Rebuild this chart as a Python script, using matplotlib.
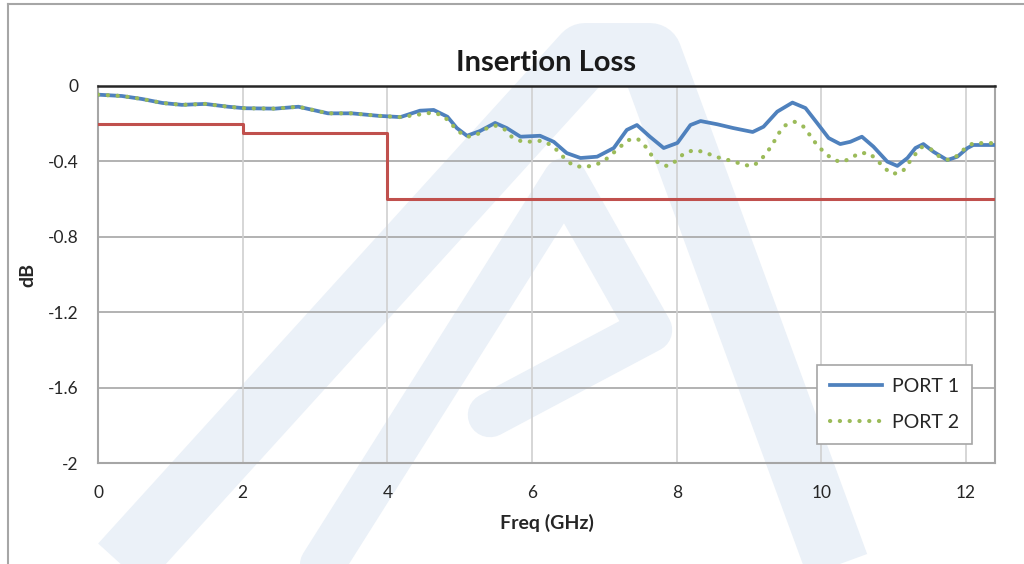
import matplotlib
matplotlib.use("Agg")
import matplotlib.pyplot as plt
from matplotlib.lines import Line2D

plt.rcParams['font.family'] = ['Lato', 'DejaVu Sans']

port1_freq = [0.0, 0.33, 0.61, 0.89, 1.16, 1.48, 1.80, 2.03, 2.45, 2.77, 3.18, 3.51,
              3.87, 4.18, 4.45, 4.64, 4.83, 4.96, 5.10, 5.28, 5.49, 5.65, 5.84, 6.11,
              6.30, 6.48, 6.67, 6.90, 7.13, 7.31, 7.45, 7.63, 7.82, 8.01, 8.19, 8.33,
              8.56, 8.78, 9.05, 9.20, 9.39, 9.60, 9.78, 9.94, 10.10, 10.26, 10.40,
              10.56, 10.72, 10.91, 11.05, 11.19, 11.30, 11.41, 11.55, 11.74, 11.88,
              12.02, 12.10, 12.40]
port1_db = [-0.046, -0.053, -0.069, -0.090, -0.100, -0.095, -0.110, -0.118, -0.120,
            -0.110, -0.145, -0.145, -0.158, -0.165, -0.131, -0.127, -0.163, -0.223,
            -0.264, -0.239, -0.196, -0.223, -0.269, -0.264, -0.296, -0.356, -0.382,
            -0.375, -0.329, -0.233, -0.207, -0.269, -0.329, -0.302, -0.207, -0.186,
            -0.203, -0.223, -0.244, -0.216, -0.136, -0.088, -0.117, -0.196, -0.276,
            -0.308, -0.296, -0.269, -0.322, -0.401, -0.424, -0.382, -0.329, -0.308,
            -0.349, -0.393, -0.375, -0.329, -0.313, -0.313]

port2_freq = [0.0, 0.33, 0.61, 0.89, 1.16, 1.48, 1.80, 2.03, 2.45, 2.77, 3.18, 3.51,
              3.87, 4.18, 4.50, 4.64, 4.78, 4.87, 4.98, 5.10, 5.23, 5.35, 5.49, 5.62,
              5.72, 5.86, 6.00, 6.14, 6.28, 6.38, 6.47, 6.58, 6.72, 6.87, 7.00, 7.11,
              7.22, 7.33, 7.46, 7.57, 7.65, 7.75, 7.87, 7.99, 8.09, 8.23, 8.37, 8.51,
              8.64, 8.78, 8.92, 9.06, 9.17, 9.26, 9.34, 9.41, 9.50, 9.63, 9.75, 9.84,
              9.92, 10.03, 10.14, 10.26, 10.39, 10.52, 10.66, 10.77, 10.87, 10.98,
              11.12, 11.21, 11.29, 11.38, 11.51, 11.62, 11.76, 11.88, 11.99, 12.10,
              12.24, 12.40]
port2_db = [-0.046, -0.053, -0.069, -0.090, -0.100, -0.095, -0.110, -0.118, -0.120,
            -0.110, -0.145, -0.145, -0.158, -0.165, -0.148, -0.140, -0.160, -0.196,
            -0.240, -0.270, -0.260, -0.228, -0.210, -0.230, -0.270, -0.295, -0.295,
            -0.290, -0.317, -0.354, -0.393, -0.424, -0.430, -0.420, -0.396, -0.360,
            -0.322, -0.287, -0.280, -0.322, -0.366, -0.410, -0.425, -0.398, -0.361,
            -0.340, -0.349, -0.371, -0.387, -0.398, -0.419, -0.424, -0.388, -0.346,
            -0.299, -0.251, -0.209, -0.190, -0.215, -0.260, -0.303, -0.349, -0.384,
            -0.404, -0.388, -0.356, -0.356, -0.393, -0.435, -0.467, -0.455, -0.407,
            -0.366, -0.324, -0.334, -0.371, -0.393, -0.370, -0.329, -0.303, -0.303,
            -0.303]

# spec limit (step edges)
limit_freq = [0, 2, 4, 12.4]
limit_db = [-0.2, -0.25, -0.6, -0.6]

x_ticks = [0, 2, 4, 6, 8, 10, 12]
y_ticks = [0, -0.4, -0.8, -1.2, -1.6, -2]
y_labels = ['0', '-0.4', '-0.8', '-1.2', '-1.6', '-2']

W, H = 1024, 564
fig = plt.figure(figsize=(W / 100, H / 100), dpi=100)

def fx(px):
    return px / W

def fy(py):
    return 1 - py / H

# faint watermark logo behind the chart
wm = '#ebf1f8'
arch = Line2D([fx(90), fx(585), fx(650), fx(850)], [fy(600), fy(55), fy(55), fy(600)],
              transform=fig.transFigure, color=wm, lw=46, solid_joinstyle='round',
              solid_capstyle='butt', zorder=0)
inner = Line2D([fx(300), fx(565), fx(650), fx(490)], [fy(600), fy(180), fy(330), fy(415)],
               transform=fig.transFigure, color=wm, lw=32, solid_joinstyle='round',
               solid_capstyle='round', zorder=0)
fig.add_artist(arch)
fig.add_artist(inner)

# outer chart frame (top and left edges visible)
fig.add_artist(Line2D([fx(8), fx(1024)], [fy(4), fy(4)], transform=fig.transFigure,
                      color='#a6a6a6', lw=1.5))
fig.add_artist(Line2D([fx(8), fx(8)], [fy(4), fy(564)], transform=fig.transFigure,
                      color='#a6a6a6', lw=1.5))

ax = fig.add_axes([98 / W, 1 - 463 / H, (995 - 98) / W, (463 - 86) / H])
ax.patch.set_visible(False)

ax.step(limit_freq, limit_db, where='post', color='#c0504d', lw=2.2, zorder=3)
ax.plot(port1_freq, port1_db, color='#4f81bd', lw=2.7, label='PORT 1', zorder=4,
        solid_joinstyle='round')
ax.plot(port2_freq, port2_db, color='#9bbb59', lw=3.0, linestyle=(0, (0.05, 2.3)),
        dash_capstyle='round', label='PORT 2', zorder=5)

ax.set_xlim(0, 12.4)
ax.set_ylim(-2, 0)
ax.set_xticks(x_ticks)
ax.set_yticks(y_ticks)
ax.set_yticklabels(y_labels)
ax.tick_params(length=0, labelsize=12.5, colors='#262626')
ax.tick_params(axis='x', pad=16)
ax.tick_params(axis='y', pad=14)

for y in y_ticks[1:-1]:
    ax.axhline(y, color='#a6a6a6', lw=1.2, zorder=1)
for x in x_ticks[1:]:
    ax.axvline(x, color='#d0d0d0', lw=1.2, zorder=1)

ax.spines['top'].set_color('#262626')
ax.spines['top'].set_linewidth(1.8)
for s in ['left', 'bottom', 'right']:
    ax.spines[s].set_color('#a6a6a6')
    ax.spines[s].set_linewidth(1.5)

ax.set_title('Insertion Loss', fontsize=21, fontweight='bold', color='#1a1a1a', pad=11)
ax.set_xlabel('Freq (GHz)', fontsize=14, fontweight='bold', color='#262626', labelpad=9)
ax.set_ylabel('dB', fontsize=14, fontweight='bold', color='#262626', labelpad=8)

leg = ax.legend(loc='upper left', bbox_to_anchor=(0.8016, 0.26), fontsize=14,
                frameon=True, fancybox=False, edgecolor='#a6a6a6', framealpha=1,
                handlelength=2.7, handletextpad=0.5, labelspacing=1.0,
                borderpad=0.65, borderaxespad=0)
leg.get_frame().set_linewidth(1.2)
for t in leg.get_texts():
    t.set_color('#262626')

fig.savefig('out.png', dpi=100)
